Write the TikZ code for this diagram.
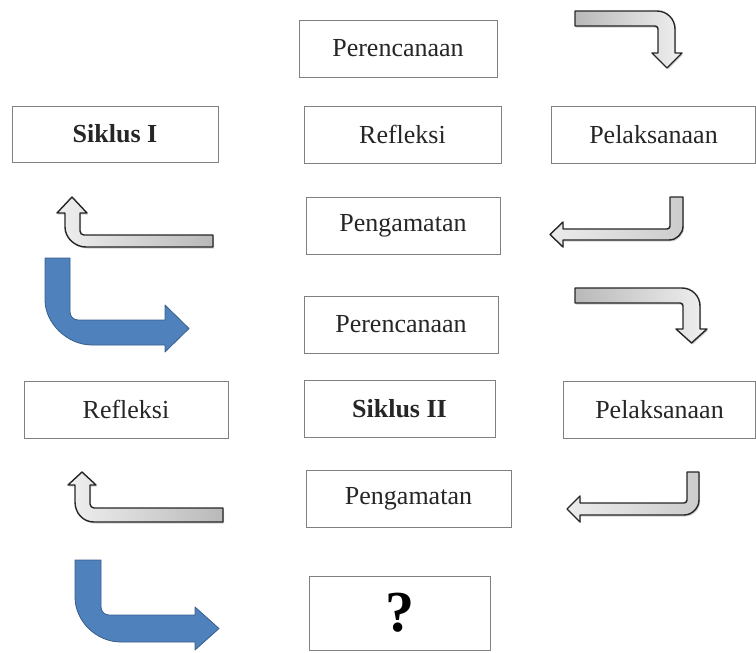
\documentclass[tikz,border=0pt]{standalone}
\usepackage{fontspec}
\setmainfont{Liberation Serif}
\usetikzlibrary{shadows}
\definecolor{boxline}{RGB}{128,128,128}
\definecolor{bluefill}{RGB}{79,129,189}
\definecolor{blueline}{RGB}{56,93,138}
\tikzset{
  stepbox/.style={draw=boxline, line width=0.9pt, fill=white, inner sep=0pt,
    font=\fontsize{26}{28}\selectfont, text=black!85},
  greyarrowR/.style={draw=black!85, line width=1.4pt, line join=round,
    left color=gray!55, right color=gray!12,
    drop shadow={opacity=0.35, shadow xshift=1.2pt, shadow yshift=-1.5pt}},
  greyarrowB/.style={draw=black!85, line width=1.4pt, line join=round,
    left color=gray!15, right color=gray!40,
    drop shadow={opacity=0.35, shadow xshift=1.2pt, shadow yshift=-1.5pt}},
  greyarrowL/.style={draw=black!85, line width=1.4pt, line join=round,
    left color=gray!12, right color=gray!55,
    drop shadow={opacity=0.35, shadow xshift=1.2pt, shadow yshift=-1.5pt}},
  bluearrow/.style={draw=blueline, line width=0.8pt, line join=round, fill=bluefill}
}
\begin{document}
\begin{tikzpicture}[x=1pt,y=-1pt]
\useasboundingbox (0,0) rectangle (756,653);

% boxes
\node[stepbox, minimum width=198pt, minimum height=57pt] (per1) at (398,48.5) {Perencanaan};
\node[stepbox, minimum width=206pt, minimum height=56pt, font=\fontsize{26}{28}\selectfont\bfseries] (sik1) at (115,134) {Siklus I};
\node[stepbox, minimum width=197pt, minimum height=57pt] (ref1) at (402.5,134.5) {Refleksi};
\node[stepbox, minimum width=204pt, minimum height=57pt] (pel1) at (653.5,134.5) {Pelaksanaan};
\node[stepbox, minimum width=194pt, minimum height=57pt] (pen1) at (403,225.5) {Pengamatan};
\node[stepbox, minimum width=194pt, minimum height=57pt] (per2) at (401,324.5) {Perencanaan};
\node[stepbox, minimum width=204pt, minimum height=57pt] (ref2) at (126,409.5) {Refleksi};
\node[stepbox, minimum width=191pt, minimum height=57pt, font=\fontsize{26}{28}\selectfont\bfseries] (sik2) at (399.5,408.5) {Siklus II};
\node[stepbox, minimum width=192pt, minimum height=57pt] (pel2) at (659.5,409.5) {Pelaksanaan};
\node[stepbox, minimum width=205pt, minimum height=57pt] (pen2) at (408.5,498.5) {Pengamatan};
\node[stepbox, minimum width=181pt, minimum height=74pt, font=\fontsize{58}{60}\selectfont\bfseries, text=black] (end) at (399.5,613) {?};

% grey arrows, cycle I
\path[greyarrowR] (575,11) -- (657,11) .. controls (667,11) and (675,19) .. (675,29)
  -- (675,53) -- (682,53) -- (667,68) -- (652,53) -- (658,53) -- (658,29)
  .. controls (658,27.3) and (656.7,26) .. (655,26) -- (575,26) -- cycle;
\path[greyarrowB] (670,197) -- (683,197) -- (683,226) .. controls (683,233.7) and (676.7,240) .. (669,240)
  -- (563,240) -- (563,247) -- (550,234.5) -- (563,222) -- (563,229) -- (667,229)
  .. controls (668.7,229) and (670,227.7) .. (670,226) -- cycle;
\path[greyarrowL] (213,235) -- (84,235) .. controls (81.8,235) and (80,233.2) .. (80,231)
  -- (80,213) -- (87,213) -- (72,197) -- (57,213) -- (65,213) -- (65,227)
  .. controls (65,238) and (75,247) .. (86,247) -- (213,247) -- cycle;

% blue arrows
\path[bluearrow] (45,258) -- (70,258) -- (70,312) .. controls (70,316.4) and (73.6,320) .. (78,320)
  -- (165,320) -- (165,305) -- (189,328.5) -- (165,352) -- (165,345) -- (92,345)
  .. controls (67,345) and (45,323) .. (45,300) -- cycle;
\path[bluearrow] (75,560) -- (101,560) -- (101,607) .. controls (101,611.4) and (104.6,615) .. (109,615)
  -- (195,615) -- (195,607) -- (219,628.5) -- (195,650) -- (195,642) -- (121,642)
  .. controls (96,642) and (75,621) .. (75,597) -- cycle;

% grey arrows, cycle II
\path[greyarrowR] (575,288) -- (682,288) .. controls (692,288) and (700,296) .. (700,306)
  -- (700,329) -- (707,329) -- (691.5,343) -- (676,329) -- (683,329) -- (683,306)
  .. controls (683,304.3) and (681.7,303) .. (680,303) -- (575,303) -- cycle;
\path[greyarrowB] (687,472) -- (699,472) -- (699,500) .. controls (699,508) and (692,515) .. (684,515)
  -- (580,515) -- (580,522) -- (567,509) -- (580,496) -- (580,503) -- (684,503)
  .. controls (685.7,503) and (687,501.7) .. (687,500) -- cycle;
\path[greyarrowL] (223,508) -- (94,508) .. controls (92,508) and (90,506) .. (90,504)
  -- (90,485) -- (96,485) -- (82,472) -- (68,485) -- (75,485) -- (75,502)
  .. controls (75,513) and (83,522) .. (94,522) -- (223,522) -- cycle;
\end{tikzpicture}
\end{document}
